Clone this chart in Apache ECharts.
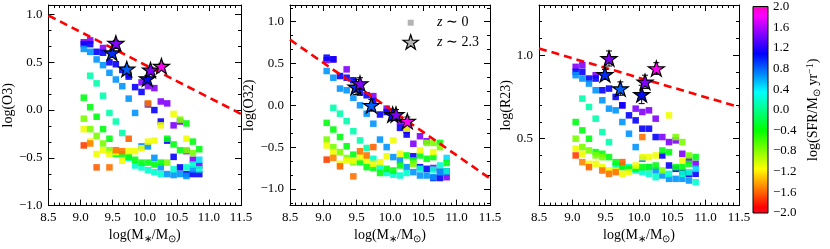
<!DOCTYPE html>
<html><head><meta charset="utf-8">
<script src="https://cdn.jsdelivr.net/npm/echarts@6/dist/echarts.min.js"></script>
<style>html,body{margin:0;padding:0;background:#fff}#c{width:830px;height:249px}</style>
</head><body><div id="c"></div>
<script>
// ---------------- data ----------------
const massBins = [9.05,9.15,9.25,9.35,9.45,9.55,9.65,9.75,9.85,9.95,10.05,10.15,10.25,10.35,10.45,10.55,10.65,10.75,10.85];
const sfrByBin = [
 [1.45,1.1,0.65,-0.35,-0.75,-1.1,-1.7],
 [1.45,1.1,0.65,0.1,-0.35,-0.75,-1.1,-1.5],
 [1.1,0.65,0.1,-0.35,-0.75,-1.1,-1.6],
 [1.45,1.1,0.65,0.1,-0.35,-0.75,-1.1],
 [1.1,0.65,0.1,-0.35,-0.75,-1.1,-1.55],
 [1.1,0.65,0.1,-0.35,-1.1,-1.55],
 [1.1,0.65,0.1,-0.35,-1.1,-1.55],
 [1.45,1.1,0.65,0.2,-0.35,-1.1,-1.6],
 [1.1,0.65,0.2,-0.35,-1.1],
 [1.45,1.1,0.65,0.2,-0.35,-1.1],
 [1.45,1.1,0.65,0.2,-0.35,-1.1,-1.55],
 [1.45,1.1,0.65,0.2,-0.35,-1.1],
 [1.45,1.1,0.65,0.2,-0.35,-1.1],
 [1.45,1.1,0.65,-0.35,-0.75],
 [1.45,1.1,0.65,0.2,-0.35,-1.1],
 [1.45,1.1,0.65,-0.35,-0.75],
 [1.45,1.1,0.65,0.2,-0.35,-0.75,-1.1],
 [1.45,1.1,0.65,0.2,-0.35,-0.75],
 [1.45,1.1,0.45,0.2,-0.35]
];
const o3ByBin = [
 [0.71,0.69,0.64,0.13,-0.09,-0.20,-0.37],
 [0.73,0.69,0.61,0.36,0.03,-0.20,-0.33,-0.35],
 [0.61,0.53,0.28,-0.07,-0.27,-0.46,-0.60],
 [0.65,0.60,0.47,0.15,-0.20,-0.35,-0.42],
 [0.50,0.39,-0.03,-0.30,-0.42,-0.46,-0.60],
 [0.48,0.32,-0.12,-0.46,-0.44,-0.42],
 [0.42,0.25,-0.24,-0.46,-0.53,-0.43],
 [0.37,0.35,0.12,-0.50,-0.49,-0.43,-0.30],
 [0.24,-0.03,-0.58,-0.52,-0.43],
 [0.29,0.19,-0.38,-0.60,-0.55,-0.40],
 [0.25,0.06,-0.38,-0.63,-0.55,-0.33,0.07],
 [0.23,0.00,-0.50,-0.65,-0.57,-0.32],
 [0.09,-0.12,-0.60,-0.67,-0.55,-0.16],
 [0.07,-0.32,-0.67,-0.30,-0.55],
 [-0.16,-0.49,-0.68,-0.62,-0.36,-0.04],
 [-0.12,-0.60,-0.67,-0.42,-0.10],
 [-0.43,-0.67,-0.69,-0.60,-0.14,-0.42,-0.30],
 [-0.52,-0.67,-0.62,-0.57,-0.33,-0.45],
 [-0.58,-0.67,-0.52,-0.62,-0.41]
];
const o32ByBin = [
 [0.54,0.57,0.41,-0.21,-0.41,-0.48,-0.65],
 [0.55,0.55,0.33,-0.03,-0.29,-0.50,-0.56,-0.63],
 [0.35,0.20,-0.10,-0.38,-0.56,-0.70,-0.73],
 [0.43,0.33,0.18,-0.19,-0.49,-0.63,-0.66],
 [0.30,0.09,-0.31,-0.59,-0.68,-0.66,-0.85],
 [0.15,0.00,-0.42,-0.68,-0.62,-0.55],
 [0.12,-0.10,-0.51,-0.74,-0.66,-0.60],
 [0.11,0.05,-0.22,-0.64,-0.75,-0.70,-0.50],
 [-0.11,-0.41,-0.74,-0.81,-0.68],
 [-0.04,-0.08,-0.50,-0.81,-0.76,-0.61],
 [-0.12,-0.15,-0.62,-0.83,-0.78,-0.42,-0.10],
 [-0.20,-0.27,-0.66,-0.84,-0.72,-0.58],
 [-0.30,-0.35,-0.74,-0.81,-0.60,-0.28],
 [-0.46,-0.61,-0.80,-0.66,-0.70],
 [-0.37,-0.74,-0.84,-0.76,-0.60,-0.54],
 [-0.43,-0.76,-0.84,-0.64,-0.45],
 [-0.75,-0.87,-0.86,-0.77,-0.62,-0.45,-0.56],
 [-0.79,-0.87,-0.80,-0.72,-0.45,-0.50],
 [-0.86,-0.79,-0.63,-0.79,-0.69]
];
const r23ByBin = [
 [0.93,0.90,0.88,0.60,0.50,0.44,0.40],
 [0.94,0.90,0.86,0.74,0.55,0.45,0.41,0.36],
 [0.86,0.83,0.69,0.50,0.43,0.35,0.33],
 [0.88,0.86,0.79,0.62,0.42,0.40,0.35],
 [0.79,0.73,0.54,0.41,0.39,0.33,0.31],
 [0.80,0.68,0.48,0.39,0.31,0.29],
 [0.75,0.67,0.34,0.36,0.31,0.30],
 [0.70,0.70,0.60,0.34,0.33,0.29,0.36],
 [0.64,0.53,0.33,0.32,0.30],
 [0.68,0.61,0.45,0.31,0.32,0.34],
 [0.66,0.56,0.38,0.30,0.33,0.39,0.51],
 [0.67,0.56,0.33,0.29,0.33,0.39],
 [0.62,0.51,0.31,0.27,0.34,0.40],
 [0.51,0.40,0.28,0.43,0.31],
 [0.48,0.34,0.26,0.29,0.42,0.64],
 [0.49,0.32,0.26,0.33,0.51],
 [0.41,0.30,0.26,0.29,0.33,0.48,0.37],
 [0.37,0.29,0.25,0.30,0.35,0.40],
 [0.35,0.29,0.32,0.24,0.39]
];
// z ~ 2.3 stacks
const starMass = [9.49, 9.55, 9.72, 10.04, 10.09, 10.26];
const starSfr  = [0.95, 1.45, 0.8, 1.05, 1.45, 1.85];
const starO3   = [0.60, 0.70, 0.43, 0.33, 0.42, 0.46];
const errO3    = [0.03, 0.03, 0.03, 0.03, 0.03, 0.03];
const starO32  = [0.22, 0.26, 0.00, -0.11, -0.11, -0.19];
const errO32   = [0.09, 0.07, 0.07, 0.06, 0.06, 0.05];
const starR23  = [0.885, 0.98, 0.80, 0.765, 0.84, 0.92];
const errR23   = [0.03, 0.045, 0.04, 0.055, 0.04, 0.035];
// dashed reference lines (end points)
const o3Line  = [[8.5, 0.99], [11.5, -0.04]];
const o32Line = [[8.5, 0.785], [11.5, -0.875]];
const r23Line = [[8.5, 1.04], [11.5, 0.69]];
// tick labels
const massTickLabels = [8.5, 9.0, 9.5, 10.0, 10.5, 11.0, 11.5];
const o3TickLabels   = [-1.0, -0.5, 0.0, 0.5, 1.0];
const o32TickLabels  = [-1.0, -0.5, 0.0, 0.5, 1.0];
const r23TickLabels  = [0.5, 1.0];
const sfrTickLabels  = [-2.0,-1.6,-1.2,-0.8,-0.4,0.0,0.4,0.8,1.2,1.6,2.0];

// ---------------- styling helpers ----------------
const FONT = 'Liberation Serif';
const fmt = v => v.toFixed(1).replace('-', '\u2212');
const gistStops = [[0.000,[1,0,0.16]],[0.030,[1,0,0]],[0.215,[1,1,0]],[0.400,[0,1,0]],[0.586,[0,1,1]],[0.770,[0,0,1]],[0.954,[1,0,1]],[1.000,[1,0,0.75]]];
function rgb(c){return 'rgb('+c.map(x=>Math.round(x*255)).join(',')+')';}
function gist(f){
  for(let i=1;i<gistStops.length;i++){
    if(f<=gistStops[i][0]){const a=gistStops[i-1],b=gistStops[i];const t=(f-a[0])/(b[0]-a[0]);
      return rgb(a[1].map((x,k)=>x+(b[1][k]-x)*t));}
  }
  return rgb(gistStops[gistStops.length-1][1]);
}
const gistColors = []; for(let i=0;i<=100;i++) gistColors.push(gist(i/100));
function minorTicks(labels, step, min, max){
  const out=[]; const base=labels[0];
  for(let k=-60;k<=60;k++){const v=base+k*step; if(v>min+1e-6 && v<max-1e-6){
    if(!labels.some(l=>Math.abs(l-v)<1e-6)) out.push(+v.toFixed(5));}}
  return out;
}
function starPts(cx, cy, R){
  const pts=[]; for(let k=0;k<10;k++){const a=-Math.PI/2+k*Math.PI/5; const r=k%2?R*0.382:R;
    pts.push([cx+r*Math.cos(a), cy+r*Math.sin(a)]);} return pts;
}
const starPath = 'path://M' + starPts(50,50,50).map(p=>p[0].toFixed(2)+','+p[1].toFixed(2)).join('L') + 'Z';

// axis factory (fresh objects for every axis)
function axis(g, min, max, pos, line, ticks, len, labels, margin){
  const a = {type:'value', gridIndex:g, min:min, max:max, position:pos, splitLine:{show:false},
    axisLine:{show:line, onZero:false, lineStyle:{color:'#000', width:1}},
    axisTick:{show:true, inside:true, length:len, customValues:ticks.slice(), lineStyle:{color:'#000', width:1}},
    axisLabel:{show:!!labels}};
  if(labels){ a.axisLabel = {show:true, customValues:labels.slice(), formatter:fmt, fontFamily:FONT, fontSize:13, color:'#000', margin:margin}; }
  return a;
}

const panels = [
  {left:41,  vals:o3ByBin,  ymin:-1.0, ymax:1.1, ylab:o3TickLabels,  ystep:0.5/3, name:'log(O3)',  gap:24, line:o3Line,  sv:starO3,  se:errO3},
  {left:290, vals:o32ByBin, ymin:-1.2, ymax:1.2, ylab:o32TickLabels, ystep:0.5/3, name:'log(O32)', gap:23, line:o32Line, sv:starO32, se:errO32},
  {left:539, vals:r23ByBin, ymin:0.1,  ymax:1.3, ylab:r23TickLabels, ystep:0.1,   name:'log(R23)', gap:20, line:r23Line, sv:starR23, se:errR23}
];

const grids=[], xAxes=[], yAxes=[], series=[], vmSeries=[];
panels.forEach((p,i)=>{
  grids.push({left:p.left, top:5, width:200, height:208});
  const xMinor = minorTicks(massTickLabels, 0.5/6, 8.5, 11.5);
  const yMinor = minorTicks(p.ylab, p.ystep, p.ymin, p.ymax);
  const xMain = axis(i, 8.5, 11.5, 'bottom', true, massTickLabels, 6, massTickLabels, 5);
  xMain.name = 'log(M{s|\u2217}/M{s|\u2299})'; xMain.nameLocation='middle'; xMain.nameGap=19;
  xMain.nameTextStyle = {fontFamily:FONT, fontSize:14, color:'#000', rich:{s:{fontFamily:FONT, fontSize:10, color:'#000', padding:[7,0,0,0]}}};
  xAxes.push(xMain,
    axis(i, 8.5, 11.5, 'bottom', false, xMinor, 3),
    axis(i, 8.5, 11.5, 'top', true, massTickLabels, 6),
    axis(i, 8.5, 11.5, 'top', false, xMinor, 3));
  const yMain = axis(i, p.ymin, p.ymax, 'left', true, p.ylab, 6, p.ylab, 6);
  yMain.name = p.name; yMain.nameLocation='middle'; yMain.nameGap=p.gap;
  yMain.nameTextStyle = {fontFamily:FONT, fontSize:14, color:'#000'};
  yAxes.push(yMain,
    axis(i, p.ymin, p.ymax, 'left', false, yMinor, 3),
    axis(i, p.ymin, p.ymax, 'right', true, p.ylab, 6),
    axis(i, p.ymin, p.ymax, 'right', false, yMinor, 3));

  const xi = 4*i, yi = 4*i;
  const pts = [];
  massBins.forEach((m,b)=>{ p.vals[b].forEach((v,k)=>pts.push([m, v, sfrByBin[b][k]])); });
  vmSeries.push(series.length);
  series.push({type:'scatter', xAxisIndex:xi, yAxisIndex:yi, data:pts, symbol:'rect', symbolSize:6.5,
    itemStyle:{opacity:0.9}, z:2, silent:true});
  series.push({type:'line', xAxisIndex:xi, yAxisIndex:yi, data:p.line, symbol:'none',
    lineStyle:{color:'#ff0000', width:2.6, type:[8,5]}, z:3, silent:true});
  series.push({type:'custom', xAxisIndex:xi, yAxisIndex:yi, z:4, silent:true,
    data: starMass.map((m,k)=>[m, p.sv[k], p.se[k]]),
    encode:{x:0, y:1},
    renderItem:(params, api)=>{
      const x=api.value(0), y=api.value(1), e=api.value(2);
      const t=api.coord([x,y+e]), b=api.coord([x,y-e]); const c=3;
      const st={stroke:'#000', lineWidth:1};
      return {type:'group', children:[
        {type:'line', shape:{x1:t[0],y1:t[1],x2:b[0],y2:b[1]}, style:st},
        {type:'line', shape:{x1:t[0]-c,y1:t[1],x2:t[0]+c,y2:t[1]}, style:st},
        {type:'line', shape:{x1:b[0]-c,y1:b[1],x2:b[0]+c,y2:b[1]}, style:st}]};
    }});
  vmSeries.push(series.length);
  series.push({type:'scatter', xAxisIndex:xi, yAxisIndex:yi, z:5, silent:true,
    data: starMass.map((m,k)=>[m, p.sv[k], starSfr[k]]), symbol:starPath, symbolSize:16, symbolKeepAspect:true,
    itemStyle:{borderColor:'#000', borderWidth:1.2, opacity:1}});
});

// colour bar
grids.push({left:753, top:5, width:15, height:208});
xAxes.push({type:'value', gridIndex:3, min:0, max:1, show:false});
yAxes.push({type:'value', gridIndex:3, min:-2, max:2, position:'right',
  axisLine:{show:false, onZero:false}, axisTick:{show:false}, splitLine:{show:false},
  axisLabel:{show:true, customValues:sfrTickLabels, formatter:fmt, fontFamily:FONT, fontSize:13, color:'#000', margin:5},
  name:'log(SFR/M{s|\u2299} yr{p|\u22121})', nameLocation:'middle', nameGap:37,
  nameTextStyle:{fontFamily:FONT, fontSize:14, color:'#000',
    rich:{s:{fontFamily:FONT, fontSize:10, color:'#000', padding:[7,0,0,0]}, p:{fontFamily:FONT, fontSize:10, color:'#000', padding:[0,0,7,0]}}}});
const cbStops = gistStops.map(s=>({offset:s[0], color:rgb(s[1])}));
series.push({type:'custom', xAxisIndex:12, yAxisIndex:12, silent:true, data:[[0,-2]], encode:{x:0,y:1},
  renderItem:(params, api)=>{
    const a=api.coord([0,-2]), b=api.coord([1,2]);
    return {type:'rect', shape:{x:a[0], y:b[1], width:b[0]-a[0], height:a[1]-b[1]},
      style:{fill:new echarts.graphic.LinearGradient(0,1,0,0,cbStops), stroke:'#000', lineWidth:1}};
  }});

// legend (drawn as graphics)
const lg = starPts(410.7, 42.7, 8);
const graphic = [
  {type:'rect', shape:{x:407.7, y:19.7, width:6, height:6}, style:{fill:'#b4b4b4'}},
  {type:'polygon', shape:{points:lg}, style:{fill:'#b4b4b4', stroke:'#000', lineWidth:1.2}},
  {type:'text', x:437, y:22.7, style:{text:'{i|z} \u223c 0', fill:'#000', font:'14px '+FONT, verticalAlign:'middle',
    rich:{i:{fontStyle:'italic', fontFamily:FONT, fontSize:14}}}},
  {type:'text', x:437, y:42.7, style:{text:'{i|z} \u223c 2.3', fill:'#000', font:'14px '+FONT, verticalAlign:'middle',
    rich:{i:{fontStyle:'italic', fontFamily:FONT, fontSize:14}}}}
];

const chart = echarts.init(document.getElementById('c'), null, {renderer:'canvas'});
chart.setOption({
  animation:false, backgroundColor:'#fff',
  grid:grids, xAxis:xAxes, yAxis:yAxes, series:series, graphic:graphic,
  visualMap:{type:'continuous', show:false, min:-2, max:2, dimension:2, seriesIndex:vmSeries, inRange:{color:gistColors}}
});
</script></body></html>
